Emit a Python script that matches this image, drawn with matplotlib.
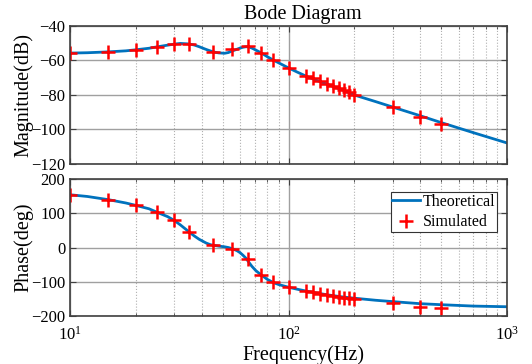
import matplotlib
matplotlib.use("Agg")
import matplotlib.pyplot as plt
from matplotlib.ticker import LogLocator, NullFormatter, FixedLocator

plt.rcParams['font.family'] = ['Liberation Serif', 'DejaVu Serif']
plt.rcParams['mathtext.fontset'] = 'custom'
plt.rcParams['mathtext.rm'] = 'Liberation Serif'
plt.rcParams['mathtext.it'] = 'Liberation Serif:italic'

# Theoretical curve
theo_f = [10, 12, 15, 18, 20, 23, 25, 28, 30, 32, 35, 37, 39, 42, 44, 46, 48, 51, 53, 55,
          58, 60, 62, 64, 66, 68, 71, 75, 80, 85, 90, 100, 110, 120, 135, 150, 175, 200,
          250, 300, 400, 500, 700, 1000]
theo_mag = [-55.7, -55.5, -55.0, -54.4, -53.8, -52.9, -52.1, -51.1, -50.5, -50.1, -50.4, -51.0,
            -52.0, -53.6, -54.5, -55.2, -55.6, -55.8, -55.4, -54.6, -53.5, -52.8, -52.3, -52.0,
            -52.2, -52.8, -54.0, -55.6, -57.8, -59.7, -61.3, -64.3, -66.8, -69.0, -71.6, -73.7,
            -76.9, -80.0, -83.8, -87.0, -92.0, -96.0, -101.8, -107.8]
theo_phase = [154, 149, 139.6, 130, 123, 113, 103, 90, 79, 66, 46, 34, 24, 13, 8, 6, 4, 2, 0, -3,
              -9, -15, -23, -32, -44, -55, -68, -80, -93, -102, -108, -116, -122, -127, -133,
              -138, -144, -148, -154, -158, -164, -167, -171, -173]

# Simulated points
sim_f = [10, 15, 20, 25, 30, 35, 45, 55, 65, 75, 85, 100, 120, 130, 140, 150, 160, 170,
         180, 190, 200, 300, 400, 500]
sim_mag = [-55.7, -55.0, -53.8, -52.0, -50.5, -50.5, -55.0, -53.2, -51.7, -55.5, -59.7, -64.3,
           -68.9, -70.1, -72.0, -73.4, -74.8, -76.0, -77.3, -78.3, -79.9, -87.0, -92.8, -96.9]
sim_phase = [154, 139.6, 123, 102.6, 79, 46, 6, -4, -35, -79, -102, -116, -127, -131, -136,
             -139, -142, -145, -146, -148, -149, -162, -173, -176]

mag_ticks = [-120, -100, -80, -60, -40]
phase_ticks = [-200, -100, 0, 100, 200]

line_color = '#0072BD'
frame_color = '#404040'

fig = plt.figure(figsize=(5.32, 3.64), dpi=100)
ax1 = fig.add_axes([70/532, 1-164/364, 437/532, 138/364])
ax2 = fig.add_axes([70/532, 1-316/364, 437/532, 137/364])

def style(ax):
    ax.set_xscale('log')
    ax.set_xlim(10, 1000)
    ax.xaxis.set_major_locator(LogLocator(base=10, numticks=10))
    ax.xaxis.set_minor_locator(LogLocator(base=10, subs=range(2, 10), numticks=20))
    ax.xaxis.set_minor_formatter(NullFormatter())
    ax.grid(True, which='major', axis='both', color='#a0a0a0', linestyle='-', linewidth=1.0)
    ax.grid(True, which='minor', axis='x', color='#b0b0b0', linestyle=':', linewidth=0.8)
    ax.set_axisbelow(True)
    for s in ax.spines.values():
        s.set_color(frame_color)
        s.set_linewidth(1.2)
    ax.tick_params(which='both', direction='in', top=True, right=True, colors=frame_color,
                   labelcolor='black', labelsize=12)
    ax.tick_params(which='major', length=4)
    ax.tick_params(which='minor', length=2)

style(ax1)
style(ax2)

ax1.plot(theo_f, theo_mag, color=line_color, linewidth=2, label='Theoretical')
ax1.plot(sim_f, sim_mag, '+', color='red', markersize=10, markeredgewidth=1.8, label='Simulated')
ax1.set_ylim(-120, -40)
ax1.yaxis.set_major_locator(FixedLocator(mag_ticks))
ax1.tick_params(axis='x', labelbottom=False)
ax1.set_ylabel('Magnitude(dB)', fontsize=14.5, labelpad=2)

ax2.plot(theo_f, theo_phase, color=line_color, linewidth=2, label='Theoretical')
ax2.plot(sim_f, sim_phase, '+', color='red', markersize=10, markeredgewidth=1.8, label='Simulated')
ax2.set_ylim(-200, 200)
ax2.yaxis.set_major_locator(FixedLocator(phase_ticks))
ax2.tick_params(axis='x', pad=7)
ax2.set_ylabel('Phase(deg)', fontsize=14.5, labelpad=2)

for ax in (ax1, ax2):
    ax.yaxis.set_label_coords(-0.084, 0.5)

leg = ax2.legend(loc='upper right', bbox_to_anchor=(0.977, 0.905), fontsize=11.5, frameon=True,
                 fancybox=False, framealpha=1, edgecolor='#333333', borderpad=0.1,
                 labelspacing=0.3, handlelength=1.7, handletextpad=0.2, borderaxespad=0.0)
leg.get_frame().set_linewidth(0.8)

fig.text(303/532, 1-15/364, 'Bode Diagram', ha='center', va='center', fontsize=14.5)
fig.text(303/532, 1-355/364, 'Frequency(Hz)', ha='center', va='center', fontsize=14.5)

fig.savefig('out.png', dpi=100)
